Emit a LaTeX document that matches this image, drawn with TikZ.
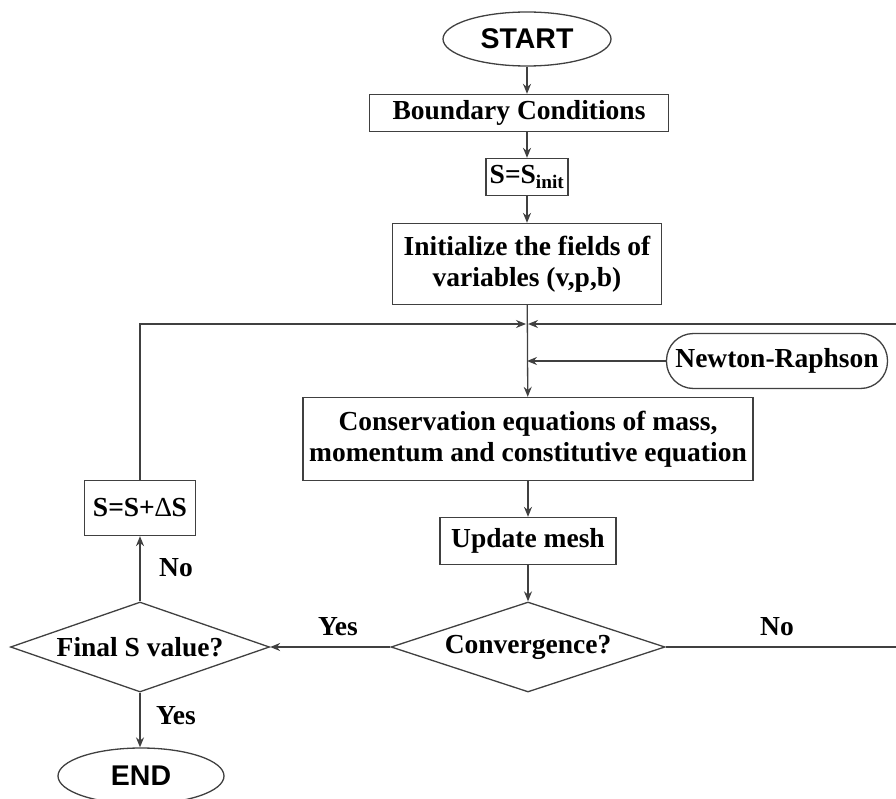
\documentclass[tikz,border=0pt]{standalone}
\usepackage{fontspec}
\setmainfont{Liberation Serif}
\newfontfamily\capsfont{Liberation Sans}
\usepackage{tikz}
\usetikzlibrary{shapes.geometric,arrows.meta}

\tikzset{
  flowline/.style={draw=black!75,line width=1.3pt},
  flowarrow/.style={flowline,-{Stealth[length=10pt,width=8pt]}},
  procbox/.style={flowline,rectangle,inner sep=0pt,align=center,
    font=\fontsize{27.5}{31}\selectfont\bfseries},
  decbox/.style={flowline,diamond,aspect=2.9,inner sep=0pt,
    font=\fontsize{27.5}{31}\selectfont\bfseries},
  termbox/.style={flowline,ellipse,inner sep=0pt,
    font=\fontsize{28.5}{31}\selectfont\capsfont\bfseries},
  edgelabel/.style={font=\fontsize{27.5}{31}\selectfont\bfseries,inner sep=0pt}
}

\begin{document}
\begin{tikzpicture}[x=1pt,y=-1pt]
\useasboundingbox (0,0) rectangle (896,799);
\node[termbox,minimum width=168,minimum height=54] (start) at (527,39) {START};
\node[procbox,minimum width=299,minimum height=37] (bc) at (519,113) {Boundary Conditions};
\node[procbox,minimum width=82,minimum height=37] (sinit) at (527,177) {S=S\textsubscript{init}};
\node[procbox,minimum width=269,minimum height=81] (init) at (527,264) {Initialize the fields of\\variables (v,p,b)};
\coordinate (join) at (527,324);
\node[procbox,rounded corners=27,minimum width=221,minimum height=55] (nr) at (777,361) {Newton-Raphson};
\node[procbox,minimum width=450,minimum height=83] (cons) at (528,439) {Conservation equations of mass,\\momentum and constitutive equation};
\node[procbox,minimum width=176,minimum height=47] (upd) at (528,541) {Update mesh};
\node[decbox,minimum width=274,minimum height=90] (conv) at (528,647) {Convergence?};
\node[decbox,minimum width=259,minimum height=90] (fin) at (140,647) {Final S value?};
\node[procbox,minimum width=111,minimum height=55] (plus) at (140,508) {S=S+{\mdseries ∆}S};
\node[termbox,minimum width=166,minimum height=56] (stop) at (141,776) {END};
\coordinate (rside) at (901,647);

% main line
\draw[flowarrow] (start) -- (bc.north -| start);
\draw[flowarrow] (bc.south -| sinit) -- (sinit);
\draw[flowarrow] (sinit) -- (init);
\draw[flowarrow] (init) -- (cons);
\draw[flowarrow] (nr.west) -- (nr.west -| join);
\draw[flowarrow] (cons) -- (upd);
\draw[flowarrow] (upd) -- (conv);

% loops back to the join
\draw[flowarrow,shorten >=1pt] (plus.north) |- (join);
\draw[flowarrow,shorten >=1pt] (conv.east) -- (rside) |- (join);
\draw[flowarrow] (conv.west) -- (fin.east);
\draw[flowarrow] (fin.north) -- (plus.south);
\draw[flowarrow] (fin.south) -- (stop.north -| fin.south);

\node[edgelabel] (yes1) at (338,627) {Yes};
\node[edgelabel] (no1) at (777,627) {No};
\node[edgelabel] (no2) at (176,568) {No};
\node[edgelabel] (yes2) at (176,716) {Yes};
\end{tikzpicture}
\end{document}
